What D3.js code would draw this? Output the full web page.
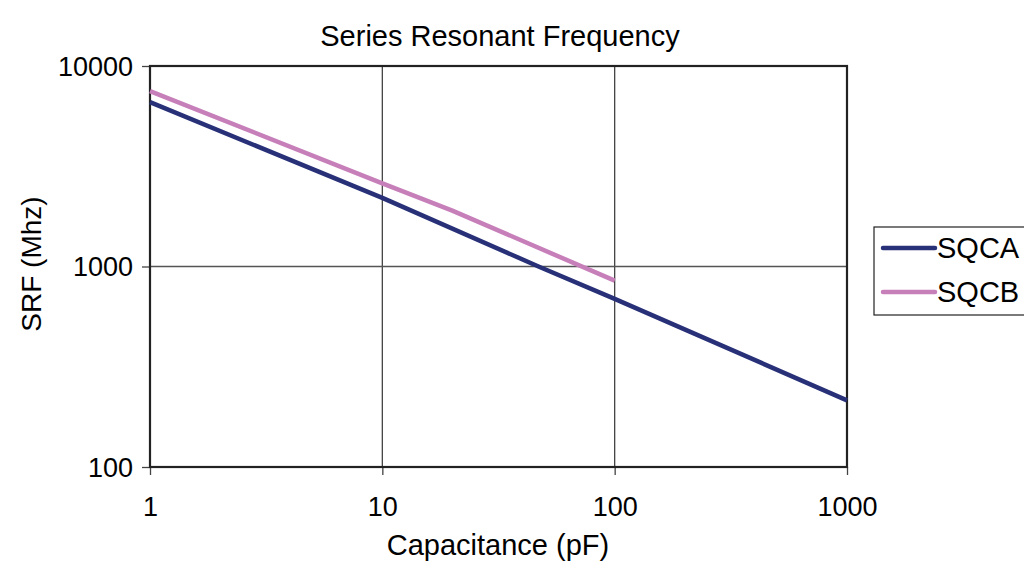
<!DOCTYPE html>
<html>
<head>
<meta charset="utf-8">
<script src="https://cdn.jsdelivr.net/npm/d3@7"></script>
<style>
  body { margin: 0; background: #fff; }
  text { font-family: "Liberation Sans", Arial, sans-serif; fill: #000; }
</style>
</head>
<body>
<div id="chart"></div>
<script>
// data
var seriesNames = ['SQCA', 'SQCB'];
var sqcaCap = [1, 10, 47, 100, 1000];
var sqcaSrf = [6600, 2200, 1000, 690, 215];
var sqcbCap = [1, 10, 20, 100];
var sqcbSrf = [7500, 2600, 1900, 850];
var xTicks = [1, 10, 100, 1000];
var yTicks = [100, 1000, 10000];

var width = 1024, height = 563;
var margin = {top: 66, right: 177, bottom: 96, left: 150}; // plot area 150..847 x 66..467
var colors = ['#283078', '#C77FBA'];

var svg = d3.select('#chart').append('svg')
  .attr('width', width)
  .attr('height', height);

var x = d3.scaleLog().domain([1, 1000]).range([margin.left, width - margin.right]);
var y = d3.scaleLog().domain([100, 10000]).range([height - margin.bottom, margin.top]);

// gridlines
svg.append('g').selectAll('line')
  .data(xTicks.slice(1, -1))
  .enter().append('line')
  .attr('x1', function(d) { return x(d); })
  .attr('x2', function(d) { return x(d); })
  .attr('y1', y(10000)).attr('y2', y(100))
  .attr('stroke', '#444').attr('stroke-width', 1.3);

svg.append('g').selectAll('line')
  .data(yTicks.slice(1, -1))
  .enter().append('line')
  .attr('y1', function(d) { return y(d); })
  .attr('y2', function(d) { return y(d); })
  .attr('x1', x(1)).attr('x2', x(1000))
  .attr('stroke', '#555').attr('stroke-width', 1.6);

// axes
var xAxis = svg.append('g')
  .attr('transform', 'translate(0,' + y(100) + ')')
  .call(d3.axisBottom(x).tickValues(xTicks).tickFormat(d3.format('d')).tickSize(8).tickPadding(22));
var yAxis = svg.append('g')
  .attr('transform', 'translate(' + x(1) + ',0)')
  .call(d3.axisLeft(y).tickValues(yTicks).tickFormat(d3.format('d')).tickSize(8).tickPadding(9));

[xAxis, yAxis].forEach(function(a) {
  a.select('.domain').remove();
  a.selectAll('line').attr('stroke', '#444').attr('stroke-width', 1.3);
  a.selectAll('text')
    .style('font-size', '27px')
    .style('font-family', '"Liberation Sans", Arial, sans-serif')
    .attr('fill', '#000');
});
yAxis.selectAll('text').attr('dy', '0.35em');

// plot frame
svg.append('rect')
  .attr('x', x(1)).attr('y', y(10000))
  .attr('width', x(1000) - x(1)).attr('height', y(100) - y(10000))
  .attr('fill', 'none').attr('stroke', '#222').attr('stroke-width', 2.2);

// series lines
var line = d3.line()
  .x(function(d) { return x(d[0]); })
  .y(function(d) { return y(d[1]); });

var series = [d3.zip(sqcaCap, sqcaSrf), d3.zip(sqcbCap, sqcbSrf)];

series.forEach(function(s, i) {
  svg.append('path')
    .datum(s)
    .attr('d', line)
    .attr('fill', 'none')
    .attr('stroke', colors[i])
    .attr('stroke-width', 4.5)
    .attr('stroke-linejoin', 'round');
});

// title and axis labels
svg.append('text')
  .attr('x', 500).attr('y', 46)
  .attr('text-anchor', 'middle')
  .style('font-size', '29px')
  .text('Series Resonant Frequency');

svg.append('text')
  .attr('x', 498).attr('y', 555)
  .attr('text-anchor', 'middle')
  .style('font-size', '29px')
  .text('Capacitance (pF)');

svg.append('text')
  .attr('transform', 'translate(41,264) rotate(-90)')
  .attr('text-anchor', 'middle')
  .style('font-size', '28px')
  .text('SRF (Mhz)');

// legend
var legend = svg.append('g');
legend.append('rect')
  .attr('x', 874).attr('y', 227)
  .attr('width', 160).attr('height', 88)
  .attr('fill', '#fff').attr('stroke', '#222').attr('stroke-width', 1.2);

var item = legend.selectAll('g.item')
  .data(seriesNames)
  .enter().append('g')
  .attr('class', 'item')
  .attr('transform', function(d, i) { return 'translate(0,' + (248 + i * 44) + ')'; });

item.append('line')
  .attr('x1', 883).attr('x2', 935)
  .attr('stroke', function(d, i) { return colors[i]; })
  .attr('stroke-width', 4.5)
  .attr('stroke-linecap', 'round');

item.append('text')
  .attr('x', 937).attr('dy', '0.36em')
  .style('font-size', '29px')
  .text(function(d) { return d; });
</script>
</body>
</html>
